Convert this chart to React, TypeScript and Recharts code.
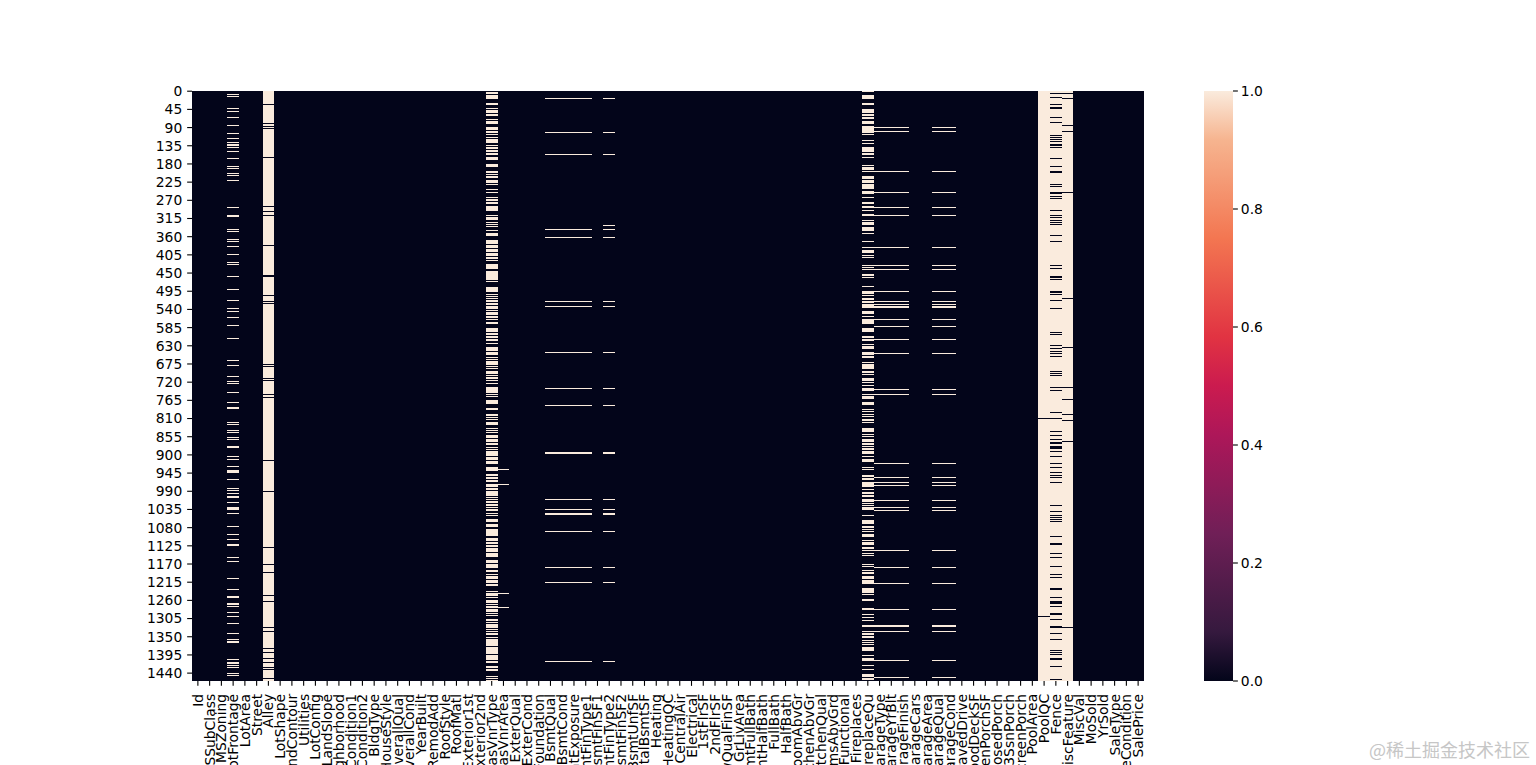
import React from 'react';
import { BarChart, Bar, XAxis, YAxis } from 'recharts';

type Run = number | [number, number];

const columns = ['Id','MSSubClass','MSZoning','LotFrontage','LotArea','Street','Alley','LotShape','LandContour','Utilities','LotConfig','LandSlope','Neighborhood','Condition1','Condition2','BldgType','HouseStyle','OverallQual','OverallCond','YearBuilt','YearRemodAdd','RoofStyle','RoofMatl','Exterior1st','Exterior2nd','MasVnrType','MasVnrArea','ExterQual','ExterCond','Foundation','BsmtQual','BsmtCond','BsmtExposure','BsmtFinType1','BsmtFinSF1','BsmtFinType2','BsmtFinSF2','BsmtUnfSF','TotalBsmtSF','Heating','HeatingQC','CentralAir','Electrical','1stFlrSF','2ndFlrSF','LowQualFinSF','GrLivArea','BsmtFullBath','BsmtHalfBath','FullBath','HalfBath','BedroomAbvGr','KitchenAbvGr','KitchenQual','TotRmsAbvGrd','Functional','Fireplaces','FireplaceQu','GarageType','GarageYrBlt','GarageFinish','GarageCars','GarageArea','GarageQual','GarageCond','PavedDrive','WoodDeckSF','OpenPorchSF','EnclosedPorch','3SsnPorch','ScreenPorch','PoolArea','PoolQC','Fence','MiscFeature','MiscVal','MoSold','YrSold','SaleType','SaleCondition','SalePrice'];

const rowCount = 1460;
const rowTickLabels = [0,45,90,135,180,225,270,315,360,405,450,495,540,585,630,675,720,765,810,855,900,945,990,1035,1080,1125,1170,1215,1260,1305,1350,1395,1440];
const colorbarTicks = [0,0.2,0.4,0.6,0.8,1];

// Rows that read as missing (value 1)
const lotFrontageMissing: Run[] = [8,13,43,49,65,85,105,117,127,131,134,139,149,167,186,191,204,209,219,288,[307,312],342,347,365,370,384,404,422,427,459,491,518,538,545,560,580,612,666,679,706,718,723,746,770,[782,787],818,823,840,845,855,860,[879,884],904,911,929,[938,945],961,983,988,996,[1002,1007],1018,[1030,1037],1045,1077,1097,1109,[1120,1126],1154,1164,1206,1233,[1249,1255],[1267,1272],1275,1290,1300,1317,1342,1357,[1361,1366],1406,[1414,1419],1421,1426,1441,1446];

const masVnrTypeMissing: Run[] = [[2,7],[10,20],[30,35],[42,45],[47,54],[57,62],[69,72],[74,82],[89,97],[99,104],[106,109],[114,116],[119,129],[134,136],[139,144],[146,151],[153,158],[163,171],[181,188],[198,203],[205,208],[210,215],[220,228],[230,233],[243,245],[250,252],[262,265],[267,272],[275,280],[285,297],[307,309],[312,319],[324,327],[329,332],[334,337],[344,346],[351,359],[369,379],[381,388],[391,398],[401,408],[411,416],[418,421],[428,440],[445,468],[470,473],[485,497],[502,505],[507,510],[512,515],[517,522],[525,530],[532,539],[542,544],[547,554],[557,562],[564,567],[572,577],[586,596],[599,604],[606,611],[614,619],[624,626],[633,643],[646,653],[658,661],[663,666],[668,678],[681,683],[686,688],[693,700],[703,705],[708,713],[715,718],[723,725],[733,747],[750,752],[755,757],[765,775],[785,789],[799,804],[807,809],[812,814],[819,827],[834,836],[839,841],[844,846],[851,859],[861,869],[871,876],[881,883],[886,888],[891,903],[906,913],[916,923],[930,940],[948,953],[955,960],[963,968],[973,980],[983,987],[990,1002],[1005,1007],[1010,1012],[1015,1020],[1022,1027],[1030,1032],[1034,1039],[1044,1047],[1049,1052],[1059,1067],[1072,1079],[1084,1101],[1106,1114],[1116,1121],[1124,1129],[1131,1141],[1143,1153],[1161,1168],[1171,1180],[1185,1190],[1195,1198],[1200,1208],[1210,1218],[1220,1225],[1237,1240],[1242,1250],[1252,1255],[1260,1267],[1270,1272],[1275,1279],[1282,1289],[1292,1294],[1297,1299],[1307,1312],[1314,1317],[1319,1329],[1331,1334],[1336,1339],[1341,1346],[1351,1354],[1356,1374],[1376,1393],[1396,1408],[1411,1416],[1423,1428],[1430,1435],[1448,1450],[1453,1455],[1458,1460]];

const masVnrAreaMissing: Run[] = [936,973,1243,1278];

const bsmtMissing: Run[] = [18,102,157,342,362,520,533,647,736,778,[894,898],1010,1035,[1044,1049],1090,1179,1216,1411];
const bsmtFinType2Missing: Run[] = [18,102,157,332,342,362,520,533,647,736,778,[894,898],1010,1035,[1044,1049],1090,1179,1216,1411];

const fireplaceQuMissing: Run[] = [[0,2],[10,20],[30,35],[45,47],[47,54],[57,62],[64,69],[74,82],[87,104],[106,109],[121,124],[129,131],[139,151],[153,158],[163,166],[183,186],[188,196],[198,200],[210,218],[220,228],[230,243],[248,255],[262,265],[275,280],[285,290],[295,297],[304,309],[319,322],[324,332],[337,346],[351,354],[371,374],[386,388],[393,401],[406,408],[411,413],[431,433],[436,438],[440,443],[453,458],[460,463],[483,485],[495,502],[505,507],[512,517],[520,525],[527,538],[544,552],[557,559],[564,577],[586,596],[606,611],[614,619],[626,629],[631,638],[646,653],[656,661],[671,673],[676,688],[693,698],[701,703],[710,718],[720,723],[728,730],[735,742],[750,752],[755,762],[770,777],[787,789],[792,794],[799,802],[804,807],[812,817],[819,822],[834,844],[849,851],[854,856],[861,869],[871,876],[879,881],[884,888],[891,898],[903,906],[911,918],[930,933],[935,938],[950,955],[958,963],[968,980],[985,987],[992,997],[1000,1005],[1010,1017],[1020,1022],[1025,1027],[1030,1037],[1049,1052],[1062,1072],[1077,1081],[1084,1086],[1089,1091],[1096,1104],[1111,1114],[1116,1124],[1128,1133],[1136,1138],[1143,1146],[1148,1151],[1171,1173],[1176,1178],[1185,1188],[1190,1195],[1200,1208],[1210,1220],[1230,1242],[1245,1247],[1257,1262],[1279,1284],[1294,1297],[1302,1304],[1309,1312],[1322,1326],[1336,1339],[1341,1346],[1349,1354],[1359,1361],[1364,1366],[1369,1371],[1376,1386],[1396,1398],[1403,1411],[1420,1423],[1430,1433],[1443,1450],[1453,1458]];

const garageMissing: Run[] = [90,100,199,251,288,308,387,431,441,496,520,528,[533,537],563,582,614,649,738,751,921,954,968,976,1011,1030,1038,1137,1179,1218,1283,[1322,1326],1337,1407,1449];

// Rows that read as present (value 0) in the mostly missing columns
const alleyPresent: Run[] = [31,80,87,92,164,285,298,308,382,[456,460],506,520,525,676,681,711,716,751,757,914,991,1129,1171,1191,1248,1263,1327,1337,1379,1387,1404,1414,1426,1431,1453];
const poolQcPresent: Run[] = [810,1298];
const fencePresent: Run[] = [6,16,31,[40,44],65,[76,80],110,115,120,124,130,134,139,167,186,[198,202],231,236,[251,255],261,266,295,308,313,318,325,330,357,372,431,439,[459,463],466,[495,499],503,518,538,597,602,629,637,644,649,[655,659],694,699,704,733,741,795,810,842,852,862,[869,873],[879,885],892,904,921,931,944,951,956,968,1025,1040,1048,1053,1058,1063,1102,[1119,1123],1144,1154,1176,1194,[1202,1206],[1230,1234],1253,[1262,1269],1275,[1292,1296],1307,[1324,1328],1340,1355,1384,1389,1394,[1403,1409],1424,1456];
const miscFeaturePresent: Run[] = [[4,8],18,85,100,251,511,634,733,761,800,813,867,1327];

const missingByColumn: Record<string, Run[]> = {
  LotFrontage: lotFrontageMissing,
  MasVnrType: masVnrTypeMissing,
  MasVnrArea: masVnrAreaMissing,
  BsmtQual: bsmtMissing,
  BsmtCond: bsmtMissing,
  BsmtExposure: bsmtMissing,
  BsmtFinType1: bsmtMissing,
  BsmtFinType2: bsmtFinType2Missing,
  FireplaceQu: fireplaceQuMissing,
  GarageType: garageMissing,
  GarageYrBlt: garageMissing,
  GarageFinish: garageMissing,
  GarageQual: garageMissing,
  GarageCond: garageMissing,
};
const presentByColumn: Record<string, Run[]> = {
  Alley: alleyPresent,
  PoolQC: poolQcPresent,
  Fence: fencePresent,
  MiscFeature: miscFeaturePresent,
};

const DARK = '#03051a';
const LIGHT = '#faebdd';
const rocketStops: [number, string][] = [[0,'#faebdd'],[0.083,'#f6b48f'],[0.25,'#f37651'],[0.417,'#e13342'],[0.5,'#cb1b4f'],[0.583,'#ad1759'],[0.75,'#701f57'],[0.917,'#35193e'],[1,'#03051a']];

const toRange = (r: Run): [number, number] => (Array.isArray(r) ? r : [r, r + 1]);

const cells = columns.flatMap((name, i) => {
  const x = i + 0.5;
  const inverted = presentByColumn[name];
  const base = { x, range: [0, rowCount] as [number, number], value: inverted ? 1 : 0 };
  const over = (inverted || missingByColumn[name] || []).map((r) => ({
    x,
    range: toRange(r),
    value: inverted ? 0 : 1,
  }));
  return [base, ...over];
});

const colorbarData = [{ name: 'value', span: 1 }];

const CellShape = (p: any) => {
  const h = Math.max(Math.abs(p.height), 1);
  const y = p.height < 0 ? p.y + p.height : p.y;
  return (
    <rect
      x={p.x}
      y={y}
      width={p.width}
      height={h}
      fill={p.payload.value === 1 ? LIGHT : DARK}
      shapeRendering="crispEdges"
    />
  );
};

const FONT = '"DejaVu Sans", sans-serif';

const ColumnTick = (p: any) => {
  const { x, y, payload } = p;
  const yy = y + 6;
  return (
    <text
      x={x + 5}
      y={yy}
      transform={`rotate(-90 ${x + 5} ${yy})`}
      textAnchor="end"
      fontFamily={FONT}
      fontSize={13.89}
      fill="#000"
    >
      {columns[Math.floor(payload.value)]}
    </text>
  );
};

const tickLine = { stroke: '#000', strokeWidth: 1.1 };

export default function App() {
  return (
    <div style={{ position: 'absolute', left: 0, top: 0, width: 1536, height: 765, overflow: 'hidden', background: '#fff' }}>
      <BarChart
        width={1536}
        height={765}
        data={cells}
        barCategoryGap={0}
        barGap={0}
        margin={{ left: 142, top: 91, right: 392, bottom: 0 }}
      >
        <XAxis
          type="number"
          dataKey="x"
          domain={[0, columns.length]}
          ticks={columns.map((_, i) => i + 0.5)}
          interval={0}
          height={84}
          axisLine={false}
          tickLine={tickLine}
          tickSize={4.86}
          tick={<ColumnTick />}
        />
        <YAxis
          type="number"
          reversed
          domain={[0, rowCount]}
          ticks={rowTickLabels.map((v) => v + 0.5)}
          interval={0}
          width={50}
          axisLine={false}
          tickLine={tickLine}
          tickSize={4.86}
          tickMargin={4.86}
          tickFormatter={(v: number) => String(Math.floor(v))}
          tick={{ fontFamily: FONT, fontSize: 13.89, fill: '#000' }}
        />
        <Bar dataKey="range" isAnimationActive={false} shape={<CellShape />} />
      </BarChart>

      <div style={{ position: 'absolute', left: 1204, top: 91 - 10, width: 80, height: 610 }}>
        <BarChart
          width={80}
          height={610}
          data={colorbarData}
          barCategoryGap={0}
          margin={{ left: 0, top: 10, right: 0, bottom: 10 }}
        >
          <defs>
            <linearGradient id="rocket" x1="0" y1="0" x2="0" y2="1">
              {rocketStops.map(([o, c]) => (
                <stop key={o} offset={o} stopColor={c} />
              ))}
            </linearGradient>
          </defs>
          <XAxis dataKey="name" hide />
          <YAxis
            orientation="right"
            type="number"
            domain={[0, 1]}
            ticks={colorbarTicks}
            interval={0}
            width={51}
            axisLine={false}
            tickLine={tickLine}
            tickSize={4.86}
            tickMargin={3}
            tickFormatter={(v: number) => v.toFixed(1)}
            tick={{ fontFamily: FONT, fontSize: 13.89, fill: '#000', textAnchor: 'start' }}
          />
          <Bar dataKey="span" fill="url(#rocket)" isAnimationActive={false} />
        </BarChart>
      </div>

      <div
        style={{
          position: 'absolute',
          left: 1369,
          top: 737,
          fontFamily: '"Noto Sans CJK SC", sans-serif',
          fontSize: 18,
          lineHeight: '24px',
          color: '#c6c6c6',
          whiteSpace: 'nowrap',
        }}
      >
        @稀土掘金技术社区
      </div>
    </div>
  );
}
